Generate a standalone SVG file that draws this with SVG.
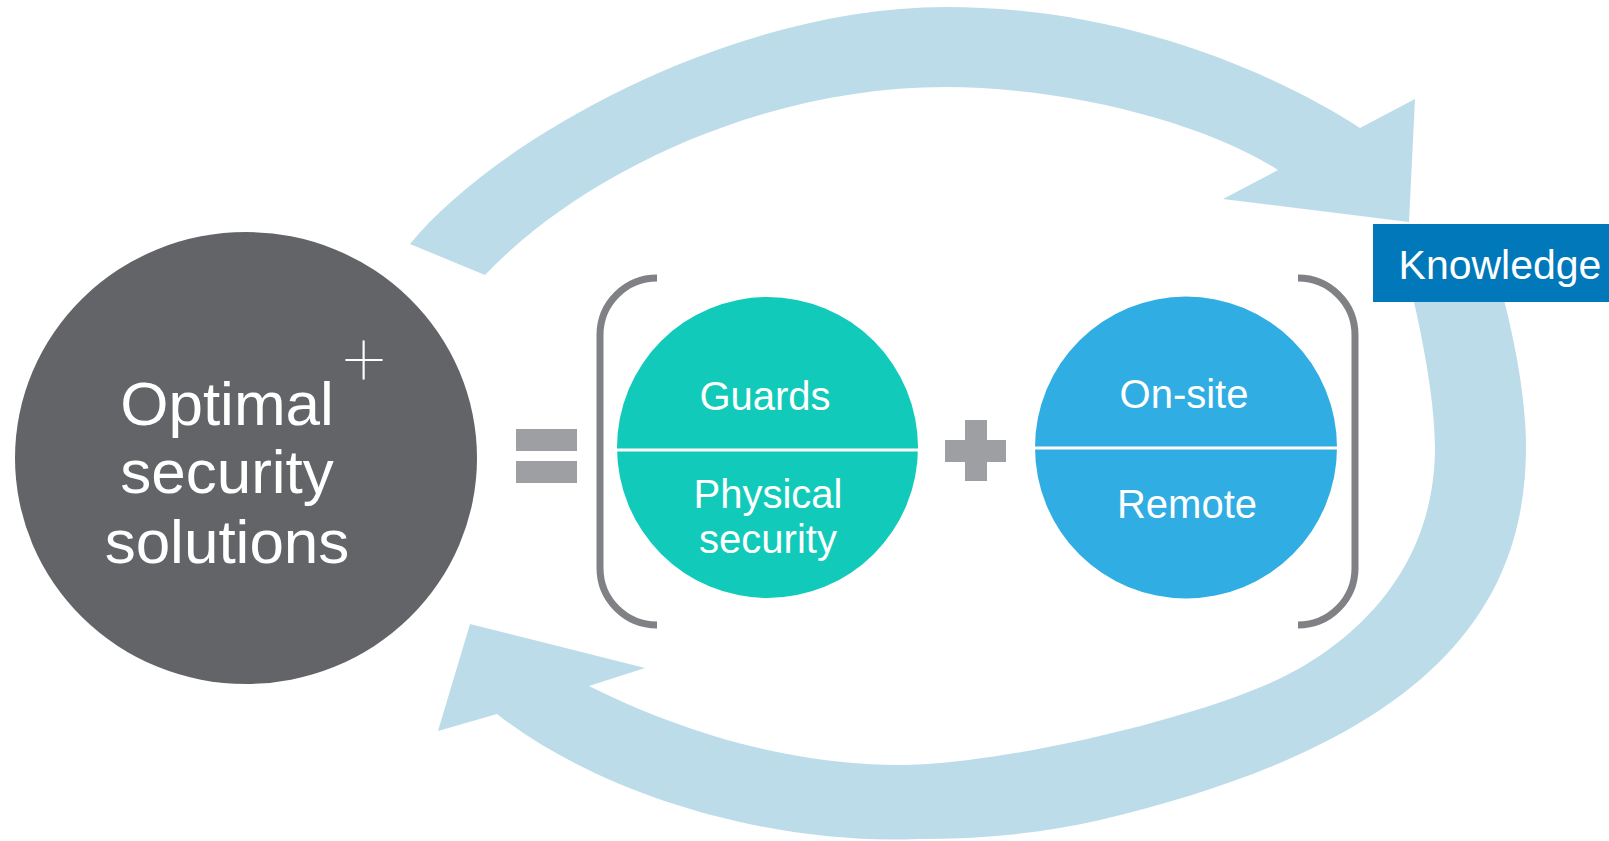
<svg xmlns="http://www.w3.org/2000/svg" width="1609" height="841" viewBox="0 0 1609 841">
  <style>
    .band { fill: #bcdcea; }
    .lbl { font-family: "Liberation Sans", Arial, sans-serif; fill: #ffffff; text-anchor: middle; }
    .bracket { fill: none; stroke: #808184; stroke-width: 7; }
    .op { fill: #9d9fa2; }
    .div { stroke: #ffffff; stroke-width: 3; }
  </style>
  <rect x="0" y="0" width="1609" height="841" fill="#ffffff"/>

  <g id="connectors">
    <path id="arrow-top" class="band" d="M410,244 C495,140 730,7 946,7 C1120,7 1270,70 1360,128 L1415,99 L1409,222 L1223,199 L1278,170 C1200,120 1060,87 946,87 C760,87 580,175 485,275 Z"/>
    <path id="arrow-bottom" class="band" d="M1493,260 C1505,300 1526,380 1526,447 C1526,600 1440,740 1100,820 C1040,834 980,839 917,839 C780,845 607,800 497,714 L438,731 L470,624 L645,668 L589,686 C669,726 780,765 900,765 C1000,765 1200,718 1283,677 C1340,649 1435,580 1435,447 C1435,390 1415,300 1403,260 Z"/>
  </g>

  <g id="node-optimal">
    <ellipse cx="246" cy="458" rx="231" ry="226" fill="#636468"/>
    <text class="lbl" x="227" y="425" font-size="62">Optimal</text>
    <text class="lbl" x="227" y="493" font-size="62">security</text>
    <text class="lbl" x="227" y="563" font-size="62">solutions</text>
    <text x="364" y="385" font-family="Roboto, 'Liberation Sans', sans-serif" font-weight="100" font-size="76" fill="#ffffff" text-anchor="middle">+</text>
  </g>

  <g id="equals">
    <rect class="op" x="516" y="429" width="61" height="22"/>
    <rect class="op" x="516" y="461" width="61" height="22"/>
  </g>

  <g id="bracket-left">
    <path class="bracket" d="M657,278 A57,57 0 0 0 600,335 V568 A57,57 0 0 0 657,625"/>
  </g>

  <g id="node-guards">
    <circle cx="767.5" cy="447.5" r="150.5" fill="#12cab9"/>
    <line class="div" x1="617" y1="450" x2="918" y2="450"/>
    <text class="lbl" x="765" y="410" font-size="40">Guards</text>
    <text class="lbl" x="768" y="508" font-size="40">Physical</text>
    <text class="lbl" x="768" y="553" font-size="40">security</text>
  </g>

  <g id="plus">
    <rect class="op" x="965" y="420" width="22" height="61"/>
    <rect class="op" x="945" y="440" width="61" height="22"/>
  </g>

  <g id="node-onsite">
    <circle cx="1186" cy="447.5" r="151" fill="#30ade3"/>
    <line class="div" x1="1035" y1="448" x2="1337" y2="448"/>
    <text class="lbl" x="1184" y="408" font-size="40">On-site</text>
    <text class="lbl" x="1187" y="518" font-size="40">Remote</text>
  </g>

  <g id="bracket-right">
    <path class="bracket" d="M1298,278 A57,57 0 0 1 1355,335 V568 A57,57 0 0 1 1298,625"/>
  </g>

  <g id="node-knowledge">
    <rect x="1373" y="224" width="236" height="78" fill="#0078b9"/>
    <text class="lbl" x="1500" y="279" font-size="41">Knowledge</text>
  </g>
</svg>
